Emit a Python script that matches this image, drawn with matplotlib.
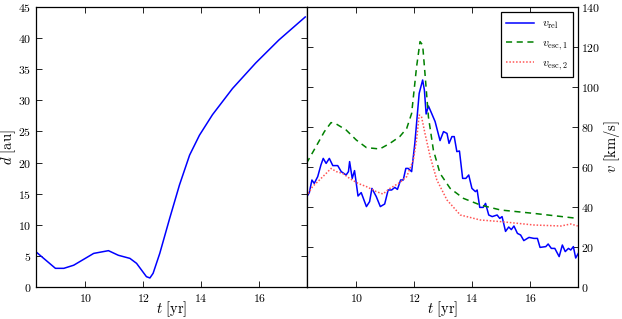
import matplotlib
matplotlib.use("Agg")
import matplotlib.pyplot as plt
from matplotlib.ticker import FuncFormatter

plt.rcParams['mathtext.fontset'] = 'cm'
plt.rcParams['font.family'] = 'serif'
plt.rcParams['font.serif'] = ['DejaVu Serif']

# ---- data ----
t_d = [8.32, 8.97, 9.26, 9.6, 10.0, 10.29, 10.8, 11.14, 11.54, 11.77, 12.11, 12.23, 12.34,
       12.57, 12.91, 13.25, 13.6, 13.94, 14.39, 15.08, 15.88, 16.68, 17.59]
d_au = [5.57, 3.0, 3.0, 3.5, 4.6, 5.4, 5.84, 5.1, 4.6, 3.8, 1.66, 1.45, 2.2,
        5.4, 11.0, 16.4, 21.2, 24.4, 27.7, 31.9, 36.0, 39.7, 43.4]

t_esc1 = [8.28, 8.61, 8.9, 9.13, 9.31, 9.65, 10.0, 10.35, 10.81, 11.16, 11.5, 11.74, 11.91,
          12.08, 12.2, 12.29, 12.37, 12.49, 12.66, 12.89, 13.24, 13.7, 14.28, 14.98, 16.13, 17.64]
v_esc1 = [61.8, 70.2, 77.7, 82.2, 81.5, 78.5, 73.5, 69.7, 69.0, 71.8, 75.2, 79.3, 86.8,
          110.0, 122.7, 121.0, 106.8, 85.0, 68.5, 56.8, 49.3, 44.3, 41.0, 38.5, 36.8, 34.3]

t_esc2 = [8.28, 8.49, 8.73, 8.96, 9.13, 9.31, 9.53, 9.77, 10.06, 10.35, 10.69, 10.92, 11.16,
          11.5, 11.74, 11.97, 12.08, 12.17, 12.25, 12.37, 12.55, 12.78, 13.13, 13.59, 14.28,
          14.98, 16.13, 17.06, 17.4, 17.64]
v_esc2 = [45.2, 50.2, 53.5, 56.8, 59.3, 57.7, 56.8, 54.3, 51.8, 50.2, 47.7, 46.5, 49.3,
          52.2, 55.2, 63.5, 73.5, 86.0, 85.2, 76.8, 65.2, 53.5, 43.5, 36.0, 33.5,
          32.7, 31.0, 30.5, 31.5, 30.5]

t_rel = [8.28, 8.38, 8.47, 8.55, 8.67, 8.78, 8.86, 8.96, 9.07, 9.19, 9.36, 9.48, 9.65, 9.73,
         9.77, 9.86, 9.94, 10.06, 10.17, 10.35, 10.46, 10.54, 10.69, 10.83, 10.98, 11.1,
         11.22, 11.33, 11.42, 11.53, 11.62, 11.71, 11.79, 11.91, 12.02, 12.17, 12.29, 12.35,
         12.41, 12.49, 12.6, 12.72, 12.89, 13.01, 13.13, 13.2, 13.3, 13.38, 13.47, 13.56,
         13.67, 13.78, 13.88, 13.99, 14.11, 14.17, 14.26, 14.38, 14.46, 14.57, 14.69, 14.86,
         14.95, 15.03, 15.15, 15.26, 15.35, 15.44, 15.56, 15.67, 15.78, 15.96, 16.13, 16.25,
         16.34, 16.54, 16.62, 16.73, 16.85, 17.0, 17.11, 17.21, 17.32, 17.4, 17.49, 17.57, 17.66]
v_rel = [44.8, 47.2, 53.5, 51.8, 55.2, 61.0, 64.3, 61.8, 64.3, 60.7, 60.7, 57.7, 56.0, 57.7,
         62.7, 54.3, 58.2, 45.5, 47.2, 40.2, 42.7, 49.3, 45.2, 40.2, 41.5, 48.5,
         48.5, 49.8, 48.8, 53.5, 53.5, 59.3, 59.3, 57.7, 71.8, 96.8, 103.5, 98.5,
         86.5, 90.5, 86.8, 82.7, 73.2, 77.7, 76.8, 71.8, 75.2, 75.2, 67.7, 68.0,
         54.3, 54.3, 56.0, 49.3, 47.7, 48.5, 39.8, 39.8, 41.8, 36.0, 35.2, 36.0,
         34.3, 35.2, 27.8, 30.0, 28.7, 30.5, 26.8, 26.0, 23.2, 24.8, 24.3, 24.3,
         19.8, 20.2, 21.5, 19.3, 19.3, 15.2, 21.0, 17.7, 19.3, 18.5, 20.2, 14.5, 16.8]

x_ticks = [10, 12, 14, 16]
d_ticks = [0, 5, 10, 15, 20, 25, 30, 35, 40, 45]
v_ticks = [0, 20, 40, 60, 80, 100, 120, 140]
legend_labels = [r'$v_{\rm rel}$', r'$v_{\rm esc,1}$', r'$v_{\rm esc,2}$']

W, H = 622, 319
fig = plt.figure(figsize=(W / 100, H / 100), dpi=100)
ax1 = fig.add_axes([36 / W, 32 / H, 271 / W, 280 / H])
ax2 = fig.add_axes([307 / W, 32 / H, 271 / W, 280 / H])

fmt = FuncFormatter(lambda x, p: r'$%g$' % x)

ax1.plot(t_d, d_au, color='#0000ff', lw=1.1)
ax1.set_xlim(8.3, 17.65)
ax1.set_ylim(0, 45)
ax1.set_xticks(x_ticks)
ax1.set_yticks(d_ticks)
ax1.set_xlabel(r'$t\ [\mathrm{yr}]$', fontsize=10.5)
ax1.set_ylabel(r'$d\ [\mathrm{au}]$', fontsize=10.5)
ax1.xaxis.set_label_coords(0.5, -0.045)
ax1.yaxis.set_label_coords(-0.066, 0.5)

ax2.plot(t_rel, v_rel, color='#0000ff', lw=1.1, label=legend_labels[0])
ax2.plot(t_esc1, v_esc1, color='#008000', lw=1.1, ls=(0, (4, 3)), label=legend_labels[1])
ax2.plot(t_esc2, v_esc2, color='#ff5555', lw=1.1, ls=(0, (1, 1.2)), label=legend_labels[2])
ax2.set_xlim(8.3, 17.65)
ax2.set_ylim(0, 140)
ax2.set_xticks(x_ticks)
ax2.set_yticks(v_ticks)
ax2.yaxis.tick_right()
ax2.yaxis.set_label_position('right')
ax2.set_xlabel(r'$t\ [\mathrm{yr}]$', fontsize=10.5)
ax2.set_ylabel(r'$v\ [\mathrm{km/s}]$', fontsize=10.5)
ax2.xaxis.set_label_coords(0.5, -0.045)
ax2.yaxis.set_label_coords(1.088, 0.5)
leg = ax2.legend(loc='upper right', fontsize=8.5, fancybox=False, framealpha=1,
                 edgecolor='black', handlelength=2.4, handletextpad=0.7,
                 borderaxespad=0.45, borderpad=0.4, labelspacing=0.4)
leg.get_frame().set_linewidth(0.9)

for ax in (ax1, ax2):
    ax.xaxis.set_major_formatter(fmt)
    ax.yaxis.set_major_formatter(fmt)
    ax.tick_params(direction='in', length=4, width=0.6, labelsize=8.5,
                   top=True, bottom=True, left=True, right=True, pad=3.5)
    for s in ax.spines.values():
        s.set_linewidth(0.9)
ax1.tick_params(labelright=False)
ax2.tick_params(labelleft=False, labelright=True)
ax2.tick_params(axis='y', pad=2.5)

fig.savefig('out.png', dpi=100)
